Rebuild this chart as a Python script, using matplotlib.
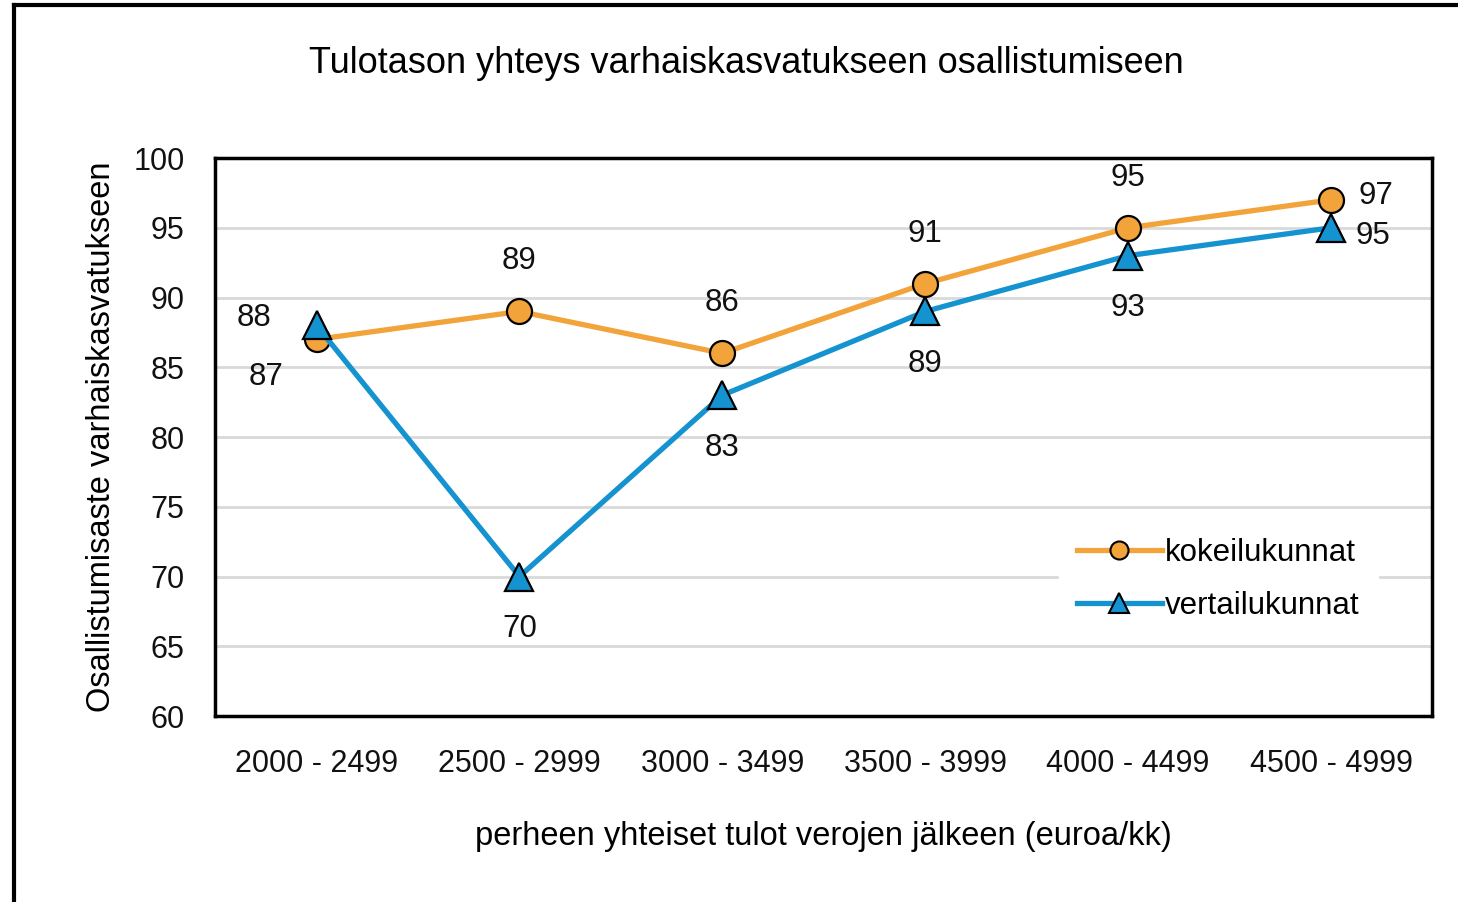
import matplotlib.pyplot as plt
from matplotlib.lines import Line2D

categories = ["2000 - 2499", "2500 - 2999", "3000 - 3499", "3500 - 3999", "4000 - 4499", "4500 - 4999"]
kokeilu = [87, 89, 86, 91, 95, 97]
vertailu = [88, 70, 83, 89, 93, 95]
series_names = ["kokeilukunnat", "vertailukunnat"]
yticks = [60, 65, 70, 75, 80, 85, 90, 95, 100]

ORANGE = "#f2a33a"
BLUE = "#1592d0"

plt.rcParams["font.family"] = ["Liberation Sans Narrow", "Liberation Sans", "DejaVu Sans"]

fig = plt.figure(figsize=(14.58, 9.02), dpi=100)
ax = fig.add_axes([0.1475, 0.2062, 0.835, 0.6186])

x = list(range(len(categories)))
ax.plot(x, kokeilu, color=ORANGE, lw=3.8, marker="o", ms=18,
        mfc=ORANGE, mec="black", mew=1.6, zorder=3)
ax.plot(x, vertailu, color=BLUE, lw=3.8, marker="^", ms=20,
        mfc=BLUE, mec="black", mew=1.6, zorder=4)

# data labels (offsets in points)
k_off = [(-36, -27), (0, 36), (0, 36), (0, 36), (0, 36), (32, 3)]
v_off = [(-45, 5), (0, -38), (0, -38), (0, -38), (0, -38), (30, -6)]
for i, v in enumerate(kokeilu):
    ax.annotate(str(v), (i, v), xytext=k_off[i], textcoords="offset points",
                ha="center", va="center", fontsize=22.5, color="#111111")
for i, v in enumerate(vertailu):
    ax.annotate(str(v), (i, v), xytext=v_off[i], textcoords="offset points",
                ha="center", va="center", fontsize=22.5, color="#111111")

ax.set_xlim(-0.5, len(categories) - 0.5)
ax.set_ylim(60, 100)
ax.set_yticks(yticks)
ax.set_xticks(x)
ax.set_xticklabels(categories)
ax.tick_params(axis="both", length=0, labelsize=22, colors="#111111")
ax.tick_params(axis="x", pad=24)
ax.tick_params(axis="y", pad=22)
ax.grid(axis="y", color="#d9d9d9", lw=2)
ax.set_axisbelow(True)
for s in ax.spines.values():
    s.set_linewidth(2.5)
    s.set_color("black")

ax.set_ylabel("Osallistumisaste varhaiskasvatukseen", fontsize=23.5, labelpad=12)
ax.set_xlabel("perheen yhteiset tulot verojen jälkeen (euroa/kk)", fontsize=23.5, labelpad=30)
fig.text(0.512, 0.930, "Tulotason yhteys varhaiskasvatukseen osallistumiseen",
         ha="center", va="center", fontsize=26)

handles = [
    Line2D([], [], color=ORANGE, lw=3.8, marker="o", ms=13, mfc=ORANGE, mec="black", mew=1.5),
    Line2D([], [], color=BLUE, lw=3.8, marker="^", ms=14, mfc=BLUE, mec="black", mew=1.5),
]
leg = ax.legend(handles, series_names, loc="center left", bbox_to_anchor=(0.68, 0.245),
                fontsize=22.5, frameon=True, framealpha=1, facecolor="white", edgecolor="white",
                handlelength=2.7, handletextpad=0.1, labelspacing=0.75, borderpad=0.6)

# outer chart border (left and top only visible in crop)
fig.add_artist(Line2D([0.0096, 0.0096], [0, 0.994], transform=fig.transFigure, color="black", lw=3))
fig.add_artist(Line2D([0.0096, 1.0], [0.994, 0.994], transform=fig.transFigure, color="black", lw=3))

fig.savefig("out.png", dpi=100)
